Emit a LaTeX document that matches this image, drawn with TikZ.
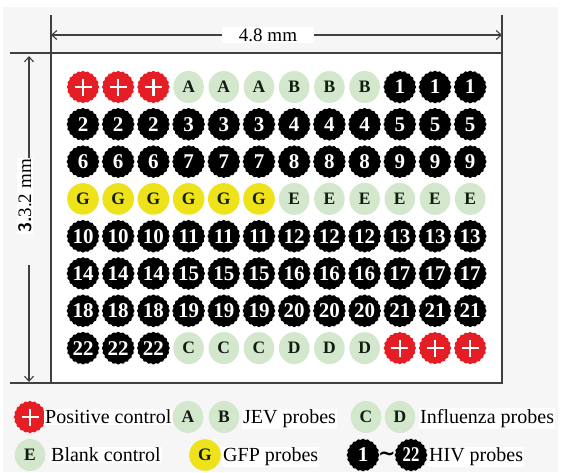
\documentclass[tikz,border=0pt]{standalone}
\usepackage{fontspec}
\setmainfont{Liberation Serif}
\newfontfamily\djv{DejaVu Sans}
\usepackage{graphicx}
\usetikzlibrary{arrows.meta}
\definecolor{bgc}{HTML}{F6F6F6}
\definecolor{pale}{HTML}{D2E7CC}
\definecolor{yel}{HTML}{EEE21A}
\definecolor{redc}{HTML}{E51E25}
\definecolor{ink}{HTML}{101C10}
\definecolor{linec}{HTML}{404040}
\tikzset{
  hivtxt/.style={text=white, font=\bfseries\fontsize{21}{21}\selectfont, inner sep=0pt},
  lettxt/.style={text=ink, font=\bfseries\fontsize{17.5}{17.5}\selectfont, inner sep=0pt},
  legtxt/.style={anchor=base west, fill=white, inner sep=1pt, font=\fontsize{20}{24}\selectfont},
  dimline/.style={draw=linec, line width=1.1pt},
  dimarrow/.style={dimline, -{Straight Barb[length=5pt,width=9pt]}},
  dimlabel/.style={fill=white, inner sep=2pt, font=\fontsize{19}{22}\selectfont},
}
\newcommand\scallop[2]{\fill[#1] plot[domain=0:360,samples=161] (\x:{#2+0.5*cos(20*\x)}) -- cycle;}
\newcommand\cellPos[4]{%
  \begin{scope}[shift={(#2,#3)}]
    \scallop{redc}{15.6}
    \draw[white,line width=2.4pt] (-8.5,0) -- (8.5,0) (0,-8.5) -- (0,8.5);
  \end{scope}
  \coordinate (#4) at (#2,#3);}
\newcommand\cellHiv[4]{%
  \begin{scope}[shift={(#2,#3)}]
    \scallop{black}{15.8}
  \end{scope}
  \node[hivtxt] (#4) at (#2,#3) {#1};}
\newcommand\cellJev[4]{%
  \fill[pale] (#2,#3) ellipse[x radius=15.3, y radius=16];
  \node[lettxt] (#4) at (#2,#3) {#1};}
\newcommand\cellGfp[4]{%
  \fill[yel] (#2,#3) circle[radius=15.8];
  \node[lettxt] (#4) at (#2,#3) {#1};}
\begin{document}
\begin{tikzpicture}[x=1pt,y=-1pt]
\useasboundingbox (0,0) rectangle (561,472);
\fill[white] (0,0) rectangle (561,472);
\fill[bgc] (3,7) rectangle (558,472);
% plate box
\draw[dimline, fill=white] (51,53) rectangle (502,383);
\draw[dimline] (10,53) -- (51,53) (10,383) -- (51,383) (51,15) -- (51,53) (502,15) -- (502,53);
% horizontal dimension
\coordinate (hl) at (51,35);
\coordinate (hr) at (502,35);
\draw[dimarrow] (268,35) -- (hl);
\draw[dimarrow] (268,35) -- (hr);
\node[dimlabel, inner xsep=17pt] (wlab) at (268,35) {4.8 mm};
% vertical dimension
\coordinate (vt) at (29,56);
\coordinate (vb) at (29,382);
\draw[dimarrow] (29,158) -- (vt);
\draw[dimarrow] (29,265) -- (vb);
\node[dimlabel, rotate=90, anchor=east, inner sep=1pt] (hlab) at (25,158) {{\sffamily\bfseries\fontsize{18}{18}\selectfont 3.}3.2 mm};
% wells
\foreach \row [count=\i from 0] in {
  {Pos/+,Pos/+,Pos/+,Jev/A,Jev/A,Jev/A,Jev/B,Jev/B,Jev/B,Hiv/1,Hiv/1,Hiv/1},
  {Hiv/2,Hiv/2,Hiv/2,Hiv/3,Hiv/3,Hiv/3,Hiv/4,Hiv/4,Hiv/4,Hiv/5,Hiv/5,Hiv/5},
  {Hiv/6,Hiv/6,Hiv/6,Hiv/7,Hiv/7,Hiv/7,Hiv/8,Hiv/8,Hiv/8,Hiv/9,Hiv/9,Hiv/9},
  {Gfp/G,Gfp/G,Gfp/G,Gfp/G,Gfp/G,Gfp/G,Jev/E,Jev/E,Jev/E,Jev/E,Jev/E,Jev/E},
  {Hiv/10,Hiv/10,Hiv/10,Hiv/11,Hiv/11,Hiv/11,Hiv/12,Hiv/12,Hiv/12,Hiv/13,Hiv/13,Hiv/13},
  {Hiv/14,Hiv/14,Hiv/14,Hiv/15,Hiv/15,Hiv/15,Hiv/16,Hiv/16,Hiv/16,Hiv/17,Hiv/17,Hiv/17},
  {Hiv/18,Hiv/18,Hiv/18,Hiv/19,Hiv/19,Hiv/19,Hiv/20,Hiv/20,Hiv/20,Hiv/21,Hiv/21,Hiv/21},
  {Hiv/22,Hiv/22,Hiv/22,Jev/C,Jev/C,Jev/C,Jev/D,Jev/D,Jev/D,Pos/+,Pos/+,Pos/+}} {
  \foreach \k/\t [count=\j from 0] in \row {
    \pgfmathsetmacro\cx{83+35.2*\j}
    \pgfmathsetmacro\cy{87+37.3*\i}
    \csname cell\k\endcsname{\t}{\cx}{\cy}{w\i-\j}
  }
}
% legend row 1
\cellPos{+}{30}{417}{lg1}
\node[legtxt] (lt1) at (44,423.5) {Positive control};
\cellJev{A}{188}{417}{lgA}
\cellJev{B}{224}{417}{lgB}
\node[legtxt] (lt2) at (242,423.5) {JEV probes};
\cellJev{C}{366}{417}{lgC}
\cellJev{D}{400}{417}{lgD}
\node[legtxt] (lt3) at (419,423.5) {Influenza probes};
% legend row 2
\cellJev{E}{30}{455}{lgE}
\node[legtxt] (lt4) at (50,461.5) {Blank control};
\cellGfp{G}{205}{455}{lgG}
\node[legtxt] (lt5) at (222,461.5) {GFP probes};
\cellHiv{1}{363}{455}{lgH1}
\node[font=\djv\bfseries\fontsize{21}{21}\selectfont, inner sep=0pt] (tilde) at (387,456) {\textasciitilde};
\cellHiv{\scalebox{0.8}[1]{22}}{411}{455}{lgH22}
\node[legtxt] (lt6) at (428,461.5) {HIV probes};
\end{tikzpicture}
\end{document}
